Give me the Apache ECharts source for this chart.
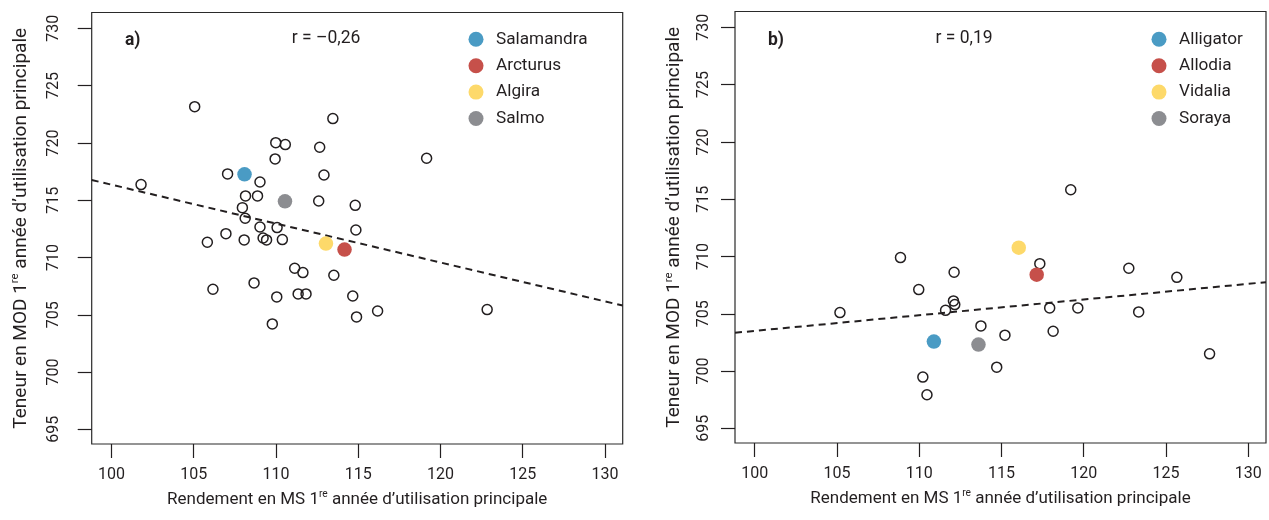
<!DOCTYPE html>
<html>
<head>
<meta charset="utf-8">
<script src="https://cdn.jsdelivr.net/npm/echarts@6/dist/echarts.min.js"></script>
<style>html,body{margin:0;padding:0;background:#fff}#c{width:1269px;height:520px}</style>
</head>
<body>
<div id="c"></div>
<script>
// ---------- DATA ----------
const xTicks = [100, 105, 110, 115, 120, 125, 130];
const yTicks = [695, 700, 705, 710, 715, 720, 725, 730];

// Panel a)
const aOtherX = [105.06,113.46,109.99,110.57,112.66,109.95,119.16,107.06,101.80,109.03,112.92,108.15,108.88,112.60,114.82,107.96,108.13,109.03,110.07,114.86,106.96,105.83,108.07,109.22,109.43,110.39,111.14,111.64,113.52,106.17,108.67,110.05,111.35,111.83,114.67,116.18,114.90,122.84,109.78];
const aOtherY = [723.16,722.12,720.02,719.85,719.62,718.60,718.66,717.29,716.36,716.59,717.20,715.37,715.37,714.93,714.55,714.35,713.42,712.66,712.61,712.40,712.08,711.33,711.53,711.70,711.53,711.56,709.06,708.68,708.45,707.23,707.78,706.56,706.82,706.82,706.64,705.33,704.81,705.45,704.20];
const aNames = ['Salamandra', 'Arcturus', 'Algira', 'Salmo'];
const aNamedX = [108.09, 114.17, 113.04, 110.55];
const aNamedY = [717.26, 710.69, 711.21, 714.90];
const aFitX = [98.8, 131.08];
const aFitY = [716.76, 705.80];
const aR = 'r = –0,26';

// Panel b)
const bOtherX = [105.18,108.86,109.97,112.12,112.08,112.16,111.60,110.22,110.47,113.75,115.21,114.71,117.33,117.93,118.14,119.21,119.64,122.74,123.34,125.66,127.65];
const bOtherY = [705.10,709.90,707.11,708.62,706.12,705.80,705.30,699.47,697.93,703.94,703.13,700.34,709.37,705.51,703.47,715.82,705.51,708.97,705.16,708.18,701.50];
const bNames = ['Alligator', 'Allodia', 'Vidalia', 'Soraya'];
const bNamedX = [110.89, 117.14, 116.05, 113.60];
const bNamedY = [702.57, 708.41, 710.77, 702.31];
const bFitX = [98.8, 131.08];
const bFitY = [703.34, 707.76];
const bR = 'r = 0,19';

// ---------- STYLE ----------
const palette = ['#4a9bc4', '#c6504a', '#fdd96a', '#8c8d91'];
const INK = '#231f20';
const FONT = 'Roboto';
const fsTick = 16, fsXName = 17, fsYName = 19, fsLeg = 17.2, fsNote = 17.5;

const zip = (xs, ys) => xs.map((x, i) => [x, ys[i]]);

const X_MIN = 98.8, X_MAX = 131.08, Y_MIN = 693.72, Y_MAX = 731.38;

const xName = '{t|Rendement en MS 1}{s|re}{t| année d’utilisation principale}';
const yName = '{t|Teneur en MOD 1}{s|re}{t| année d’utilisation principale}';
function rich(fs) {
  return {
    t: { fontSize: fs, fontFamily: FONT, color: INK, lineHeight: 22 },
    s: { fontSize: fs * 0.6, fontFamily: FONT, color: INK, lineHeight: 22, verticalAlign: 'top', padding: [0, 0, 8, 0] }
  };
}

function xAxis(gi) {
  return {
    type: 'value', gridIndex: gi, min: X_MIN, max: X_MAX,
    axisLine: { show: false },
    axisTick: { show: true, inside: false, length: 14, customValues: xTicks, lineStyle: { color: INK, width: 1.2 } },
    axisLabel: { show: true, customValues: xTicks, margin: 23, fontSize: fsTick, fontFamily: FONT, color: INK },
    splitLine: { show: false },
    name: xName, nameLocation: 'middle', nameGap: 45,
    nameTextStyle: { rich: rich(fsXName) }
  };
}
function yAxis(gi, labMargin, nameGap) {
  return {
    type: 'value', gridIndex: gi, min: Y_MIN, max: Y_MAX,
    axisLine: { show: false },
    axisTick: { show: true, inside: false, length: 14, customValues: yTicks, lineStyle: { color: INK, width: 1.2 } },
    axisLabel: { show: true, customValues: yTicks, rotate: 90, margin: labMargin, fontSize: fsTick, fontFamily: FONT, color: INK },
    splitLine: { show: false },
    name: yName, nameLocation: 'middle', nameGap: nameGap, nameRotate: 90,
    nameTextStyle: { rich: rich(fsYName) }
  };
}

function panelSeries(gi, ox, oy, names, nx, ny, fx, fy) {
  const s = [];
  s.push({
    type: 'line', xAxisIndex: gi, yAxisIndex: gi, data: zip(fx, fy), symbol: 'none', clip: true,
    lineStyle: { color: INK, width: 2, type: [7, 5] }, z: 2, silent: true
  });
  s.push({
    type: 'scatter', xAxisIndex: gi, yAxisIndex: gi, data: zip(ox, oy), symbol: 'circle', symbolSize: 10,
    itemStyle: { color: 'rgba(0,0,0,0)', borderColor: INK, borderWidth: 1.5, opacity: 1 }, z: 3
  });
  names.forEach((n, i) => {
    s.push({
      type: 'scatter', name: n, xAxisIndex: gi, yAxisIndex: gi, data: [[nx[i], ny[i]]], symbol: 'circle', symbolSize: 14.5,
      itemStyle: { color: palette[i], opacity: 1 }, z: 4
    });
  });
  return s;
}

function legend(names, left) {
  return {
    data: names.map(n => ({ name: n, icon: 'circle' })),
    orient: 'vertical', left: left, top: 29.3, itemWidth: 15, itemHeight: 15, itemGap: 6.4,
    padding: 0, selectedMode: false,
    itemStyle: { opacity: 1 },
    textStyle: { fontSize: fsLeg, fontFamily: FONT, color: INK, lineHeight: 20, padding: [0, 0, 0, 7.5] }
  };
}

function note(text, x, y, bold, align) {
  return {
    type: 'text', x: x, y: y, silent: true,
    style: { text: text, fontSize: fsNote, fontFamily: FONT, fontWeight: bold ? 'bold' : 'normal', fill: INK, align: align, verticalAlign: 'middle' }
  };
}

const chart = echarts.init(document.getElementById('c'), null, { renderer: 'canvas' });
chart.setOption({
  animation: false,
  backgroundColor: '#fff',
  grid: [
    { left: 91.7, top: 12.5, width: 531, height: 431.5, show: true, borderColor: '#2a2a2a', borderWidth: 1.2, backgroundColor: 'transparent', containLabel: false },
    { left: 735, top: 11.5, width: 531, height: 431.5, show: true, borderColor: '#2a2a2a', borderWidth: 1.2, backgroundColor: 'transparent', containLabel: false }
  ],
  xAxis: [xAxis(0), xAxis(1)],
  yAxis: [yAxis(0, 30, 59.7), yAxis(1, 23, 49.5)],
  legend: [legend(aNames, 468.5), legend(bNames, 1151.5)],
  series: [].concat(
    panelSeries(0, aOtherX, aOtherY, aNames, aNamedX, aNamedY, aFitX, aFitY),
    panelSeries(1, bOtherX, bOtherY, bNames, bNamedX, bNamedY, bFitX, bFitY)
  ),
  graphic: [
    note('a)', 125, 41, true, 'left'),
    note(aR, 326, 39, false, 'center'),
    note('b)', 768, 41, true, 'left'),
    note(bR, 964, 39, false, 'center')
  ]
});
</script>
</body>
</html>
